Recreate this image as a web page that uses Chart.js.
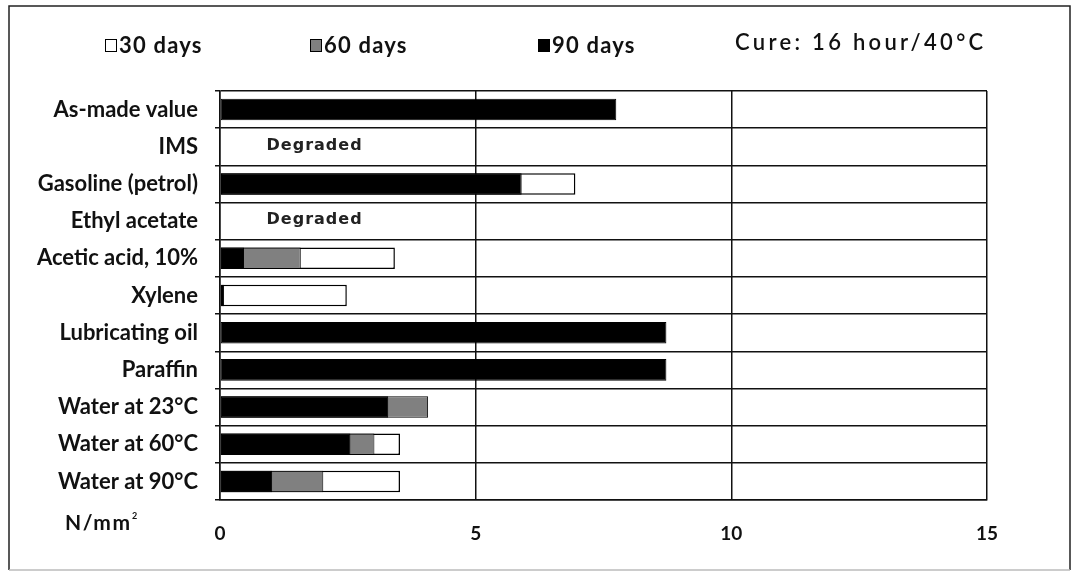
<!DOCTYPE html>
<html>
<head>
<meta charset="utf-8">
<script src="https://cdn.jsdelivr.net/npm/chart.js@4.4.1/dist/chart.umd.min.js"></script>
<style>
  html, body { margin: 0; padding: 0; background: #fff; }
  #wrap { width: 1077px; height: 572px; position: relative; }
</style>
</head>
<body>
<div id="wrap"><canvas id="chart" width="1077" height="572"></canvas></div>
<script>
// Tensile strength after immersion (N/mm²)
const categories = ['As-made value', 'IMS', 'Gasoline (petrol)', 'Ethyl acetate', 'Acetic acid, 10%',
  'Xylene', 'Lubricating oil', 'Paraffin', 'Water at 23°C', 'Water at 60°C', 'Water at 90°C'];
const days30 = [null, null, 6.95, null, 3.42, 2.48, null, null, null, 3.52, 3.52];
const days60 = [null, null, null, null, 1.58, null, null, null, 4.07, 3.02, 2.02];
const days90 = [7.75, null, 5.9, null, 0.47, 0.08, 8.73, 8.73, 3.29, 2.55, 1.02];
const degraded = ['IMS', 'Ethyl acetate'];
const xTicks = [0, 5, 10, 15];
const seriesNames = ['30 days', '60 days', '90 days'];
const seriesColors = ['#ffffff', '#808080', '#000000'];
const note = 'Cure: 16 hour/40°C';
const unit = 'N/mm';

const FONT = 'Lato, sans-serif';

// frame, legend, unit label and the "Degraded" notes
const extras = {
  id: 'extras',
  afterDraw(chart) {
    const ctx = chart.ctx;
    const x = chart.scales.x, y = chart.scales.y;
    const hasLS = 'letterSpacing' in ctx;
    ctx.save();
    // outer frame
    ctx.lineWidth = 1.5;
    ctx.strokeStyle = '#222';
    ctx.beginPath();
    ctx.moveTo(9, 570); ctx.lineTo(9, 6); ctx.lineTo(1070, 6); ctx.lineTo(1070, 570);
    ctx.stroke();
    ctx.strokeStyle = '#bbb';
    ctx.beginPath(); ctx.moveTo(9, 570); ctx.lineTo(1070, 570); ctx.stroke();

    // legend
    const legX = [105, 310, 538];
    ctx.font = 'bold 22px ' + FONT;
    ctx.textBaseline = 'middle';
    ctx.textAlign = 'left';
    seriesNames.forEach((name, i) => {
      ctx.fillStyle = seriesColors[i];
      ctx.fillRect(legX[i] + 0.5, 39.5, 11, 12);
      ctx.lineWidth = 1;
      ctx.strokeStyle = '#000';
      ctx.strokeRect(legX[i] + 0.5, 39.5, 11, 12);
      ctx.fillStyle = '#111';
      if (hasLS) ctx.letterSpacing = '1.2px';
      ctx.fillText(name, legX[i] + 14, 46);
    });
    ctx.font = '600 22px ' + FONT;
    if (hasLS) ctx.letterSpacing = '3.3px';
    ctx.fillText(note, 735, 43);

    // unit
    ctx.font = 'bold 21px ' + FONT;
    if (hasLS) ctx.letterSpacing = '1.5px';
    ctx.fillText(unit, 65, 523);
    ctx.font = 'bold 9px ' + FONT;
    if (hasLS) ctx.letterSpacing = '0px';
    ctx.fillText('2', 132, 516);

    // degraded notes
    ctx.font = 'bold 16px "DejaVu Sans", sans-serif';
    ctx.textAlign = 'center';
    ctx.fillStyle = '#222';
    if (hasLS) ctx.letterSpacing = '1px';
    degraded.forEach(c => {
      ctx.fillText('Degraded', x.getPixelForValue(1.85), y.getPixelForValue(categories.indexOf(c)) - 1);
    });
    ctx.restore();
  }
};

const barOpts = { barPercentage: 0.58, categoryPercentage: 1, borderColor: '#000', borderSkipped: false, grouped: false };

new Chart(document.getElementById('chart'), {
  type: 'bar',
  data: {
    labels: categories,
    datasets: [
      { label: seriesNames[0], data: days30, backgroundColor: seriesColors[0], borderWidth: 1.5, order: 3, ...barOpts },
      { label: seriesNames[1], data: days60, backgroundColor: seriesColors[1], borderWidth: 1, order: 2, ...barOpts },
      { label: seriesNames[2], data: days90, backgroundColor: seriesColors[2], borderWidth: 1, order: 1, ...barOpts }
    ]
  },
  options: {
    indexAxis: 'y',
    responsive: false,
    animation: false,
    devicePixelRatio: 1,
    layout: { padding: { left: 0, right: 90, top: 91, bottom: 0 } },
    plugins: { legend: { display: false }, tooltip: { enabled: false } },
    scales: {
      x: {
        min: 0, max: 15,
        afterBuildTicks: s => { s.ticks = xTicks.map(v => ({ value: v })); },
        afterFit: s => { s.height = 72; },
        grid: { color: '#111', lineWidth: 1.5, drawTicks: false },
        border: { color: '#111', width: 1.5 },
        ticks: { color: '#111', padding: 22, font: { family: FONT, size: 19, weight: 'bold' } }
      },
      y: {
        afterFit: s => { s.width = 220; },
        grid: { color: '#111', lineWidth: 1.5, offset: true, tickLength: 5 },
        border: { color: '#111', width: 1.5 },
        ticks: { color: '#111', padding: 17, font: { family: FONT, size: 22, weight: 'bold' } }
      }
    }
  },
  plugins: [extras]
});
</script>
</body>
</html>
